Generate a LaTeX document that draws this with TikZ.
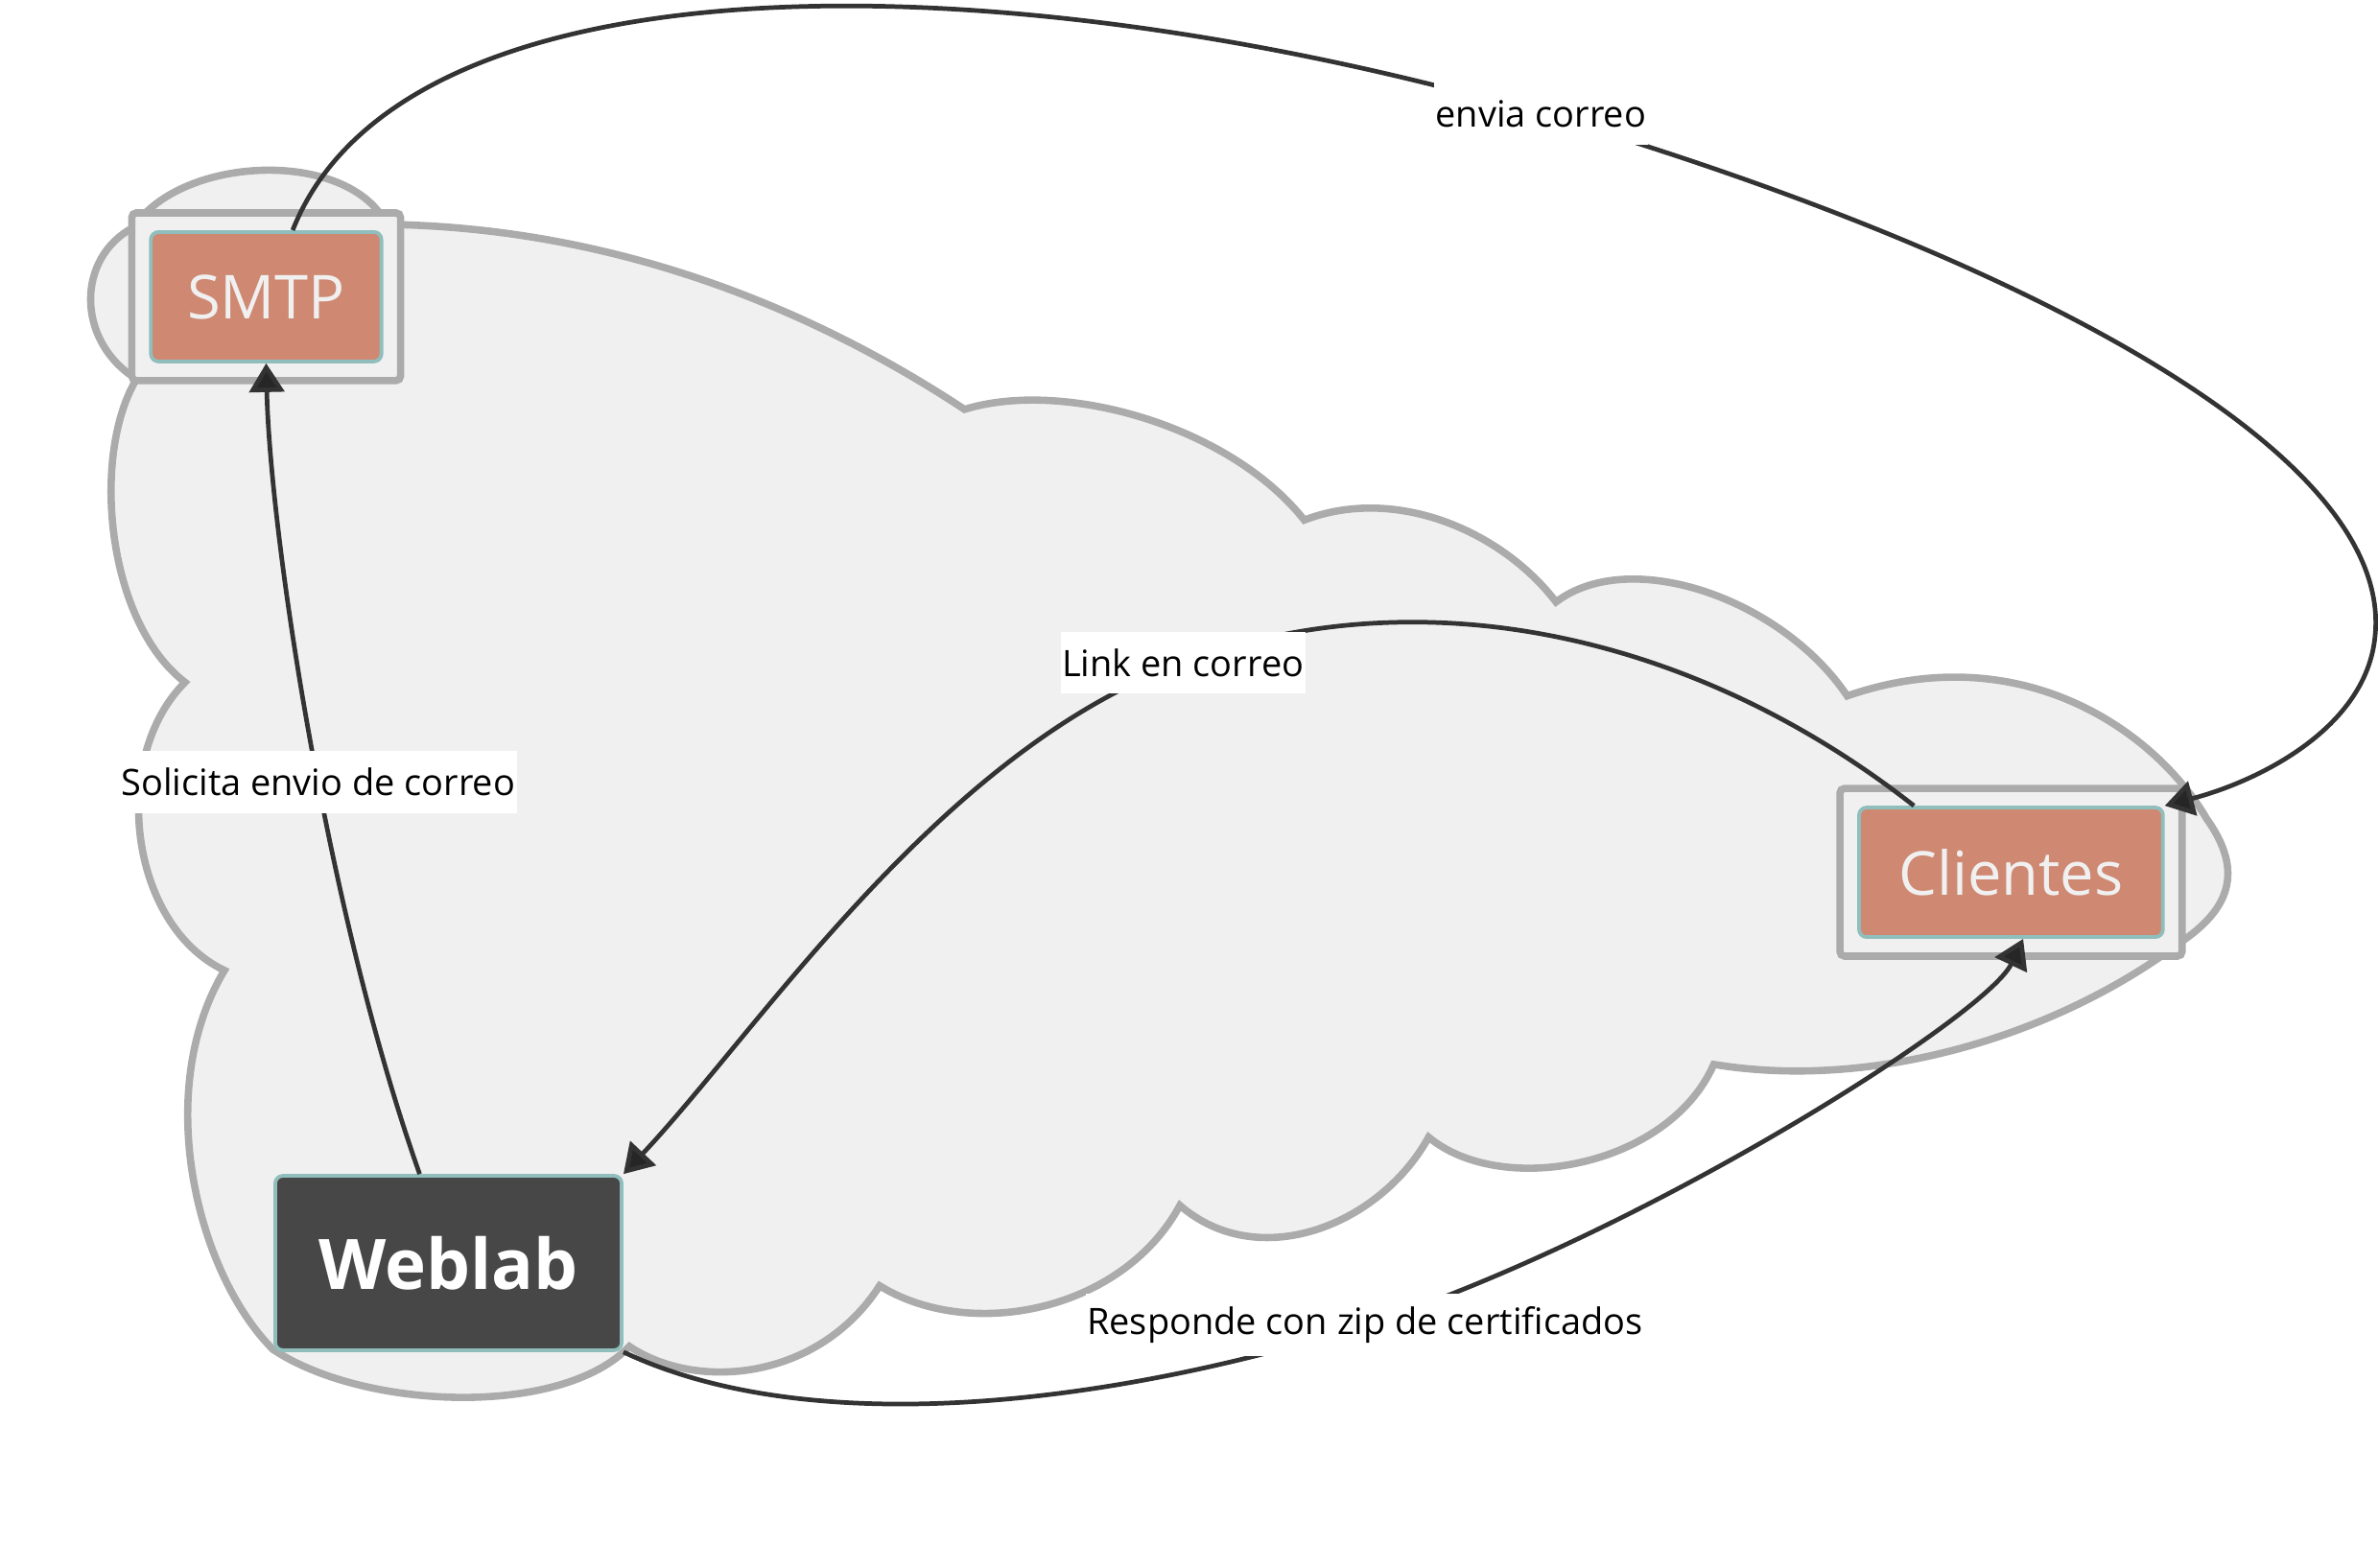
\documentclass[tikz,border=0pt]{standalone}
\usepackage{fontspec}
\setmainfont{Open Sans}
\usetikzlibrary{arrows.meta,calc,fit,backgrounds}

\definecolor{cloudfill}{HTML}{F0F0F0}
\definecolor{cloudline}{HTML}{ABABAB}
\definecolor{salmon}{RGB}{207,137,115}
\definecolor{boxedge}{RGB}{143,190,188}
\definecolor{darkbox}{HTML}{474747}
\definecolor{wire}{HTML}{333333}

\begin{document}
\begin{tikzpicture}[x=0.5pt,y=-0.5pt,
    svc/.style={rectangle,rounded corners=2.5pt,fill=salmon,draw=boxedge,line width=1.2pt,
      text=white!94!black,font=\fontsize{20}{24}\selectfont,minimum height=42.7pt},
    app/.style={rectangle,rounded corners=2.5pt,fill=darkbox,draw=boxedge,line width=1.2pt,
      text=white,font=\bfseries\fontsize{23}{28}\selectfont,minimum width=114.2pt,minimum height=57.5pt},
    frame/.style={rectangle,rounded corners=1.5pt,draw=cloudline,fill=cloudfill,line width=2.4pt,inner sep=5.7pt},
    cloud/.style={draw=cloudline,fill=cloudfill,line width=2.4pt},
    conn/.style={draw=wire,line width=1.5pt,-{Triangle[length=9.5pt,width=11.5pt,fill=black!85]}},
    lbl/.style={fill=white,text=black,font=\fontsize{12}{14}\selectfont,inner xsep=0.5pt,inner ysep=0pt,minimum height=20.5pt}]

  \useasboundingbox (0,0) rectangle (1568,1034);

  % services
  \node[svc,minimum width=76pt]     (smtp)     at (175.5,195.7) {SMTP};
  \node[svc,minimum width=100.2pt]  (clientes) at (1326,575.3)  {Clientes};
  \node[app]                        (weblab)   at (295.7,833)   {Weblab};

  \begin{scope}[on background layer]
    \fill[white] (0,0) rectangle (1568,1034);
    % the cloud
    \draw[cloud] (255,148) .. controls (400,150) and (530,200) .. (636,270)
      .. controls (700,250) and (810,280) .. (860,343)
      .. controls (920,320) and (990,350) .. (1026,397)
      .. controls (1075,360) and (1175,395) .. (1218,459)
      .. controls (1330,420) and (1420,480) .. (1455,540)
      .. controls (1480,575) and (1470,600) .. (1437,622)
      .. controls (1360,680) and (1240,720) .. (1130,702)
      .. controls (1100,770) and (990,790) .. (942,750)
      .. controls (910,808) and (830,840) .. (778,795)
      .. controls (740,865) and (640,885) .. (580,848)
      .. controls (540,910) and (460,918) .. (415,888)
      .. controls (370,935) and (240,930) .. (180,890)
      .. controls (130,840) and (100,720) .. (148,640)
      .. controls (85,610) and (72,500) .. (122,450)
      .. controls (70,410) and (60,300) .. (90,250)
      .. controls (50,225) and (50,170) .. (88,150)
      .. controls (120,102) and (230,98) .. (255,148) -- cycle;
    % frames
    \node[frame,fit=(smtp)] (smtpframe) {};
    \node[frame,fit=(clientes)] (clientesframe) {};
  \end{scope}

  % connectors
  \draw[conn] ($(smtp.north)+(17.5,0)$) .. controls (265,-30) and (650,-30) .. (1016,75)
    node[lbl] {envia correo}
    .. controls (1300,158) and (1580,290) .. (1566,420)
    .. controls (1560,480) and (1490,515) .. (clientes.north east);

  \draw[conn] ($(weblab.north)+(-19,0)$) .. controls (215,600) and (178,350) .. (smtp.south)
    node[lbl,pos=0.445] {Solicita envio de correo};

  \draw[conn] ($(clientes.north)+(-64,0)$) .. controls (1120,420) and (940,378) .. (780,437)
    node[lbl] {Link en correo}
    .. controls (620,495) and (500,680) .. (weblab.north east);

  \draw[conn] (weblab.south east) .. controls (530,948) and (720,930) .. (900,874)
    node[lbl] {Responde con zip de certificados}
    .. controls (1080,816) and (1310,670) .. ($(clientes.south)+(8,0)$);

\end{tikzpicture}
\end{document}
